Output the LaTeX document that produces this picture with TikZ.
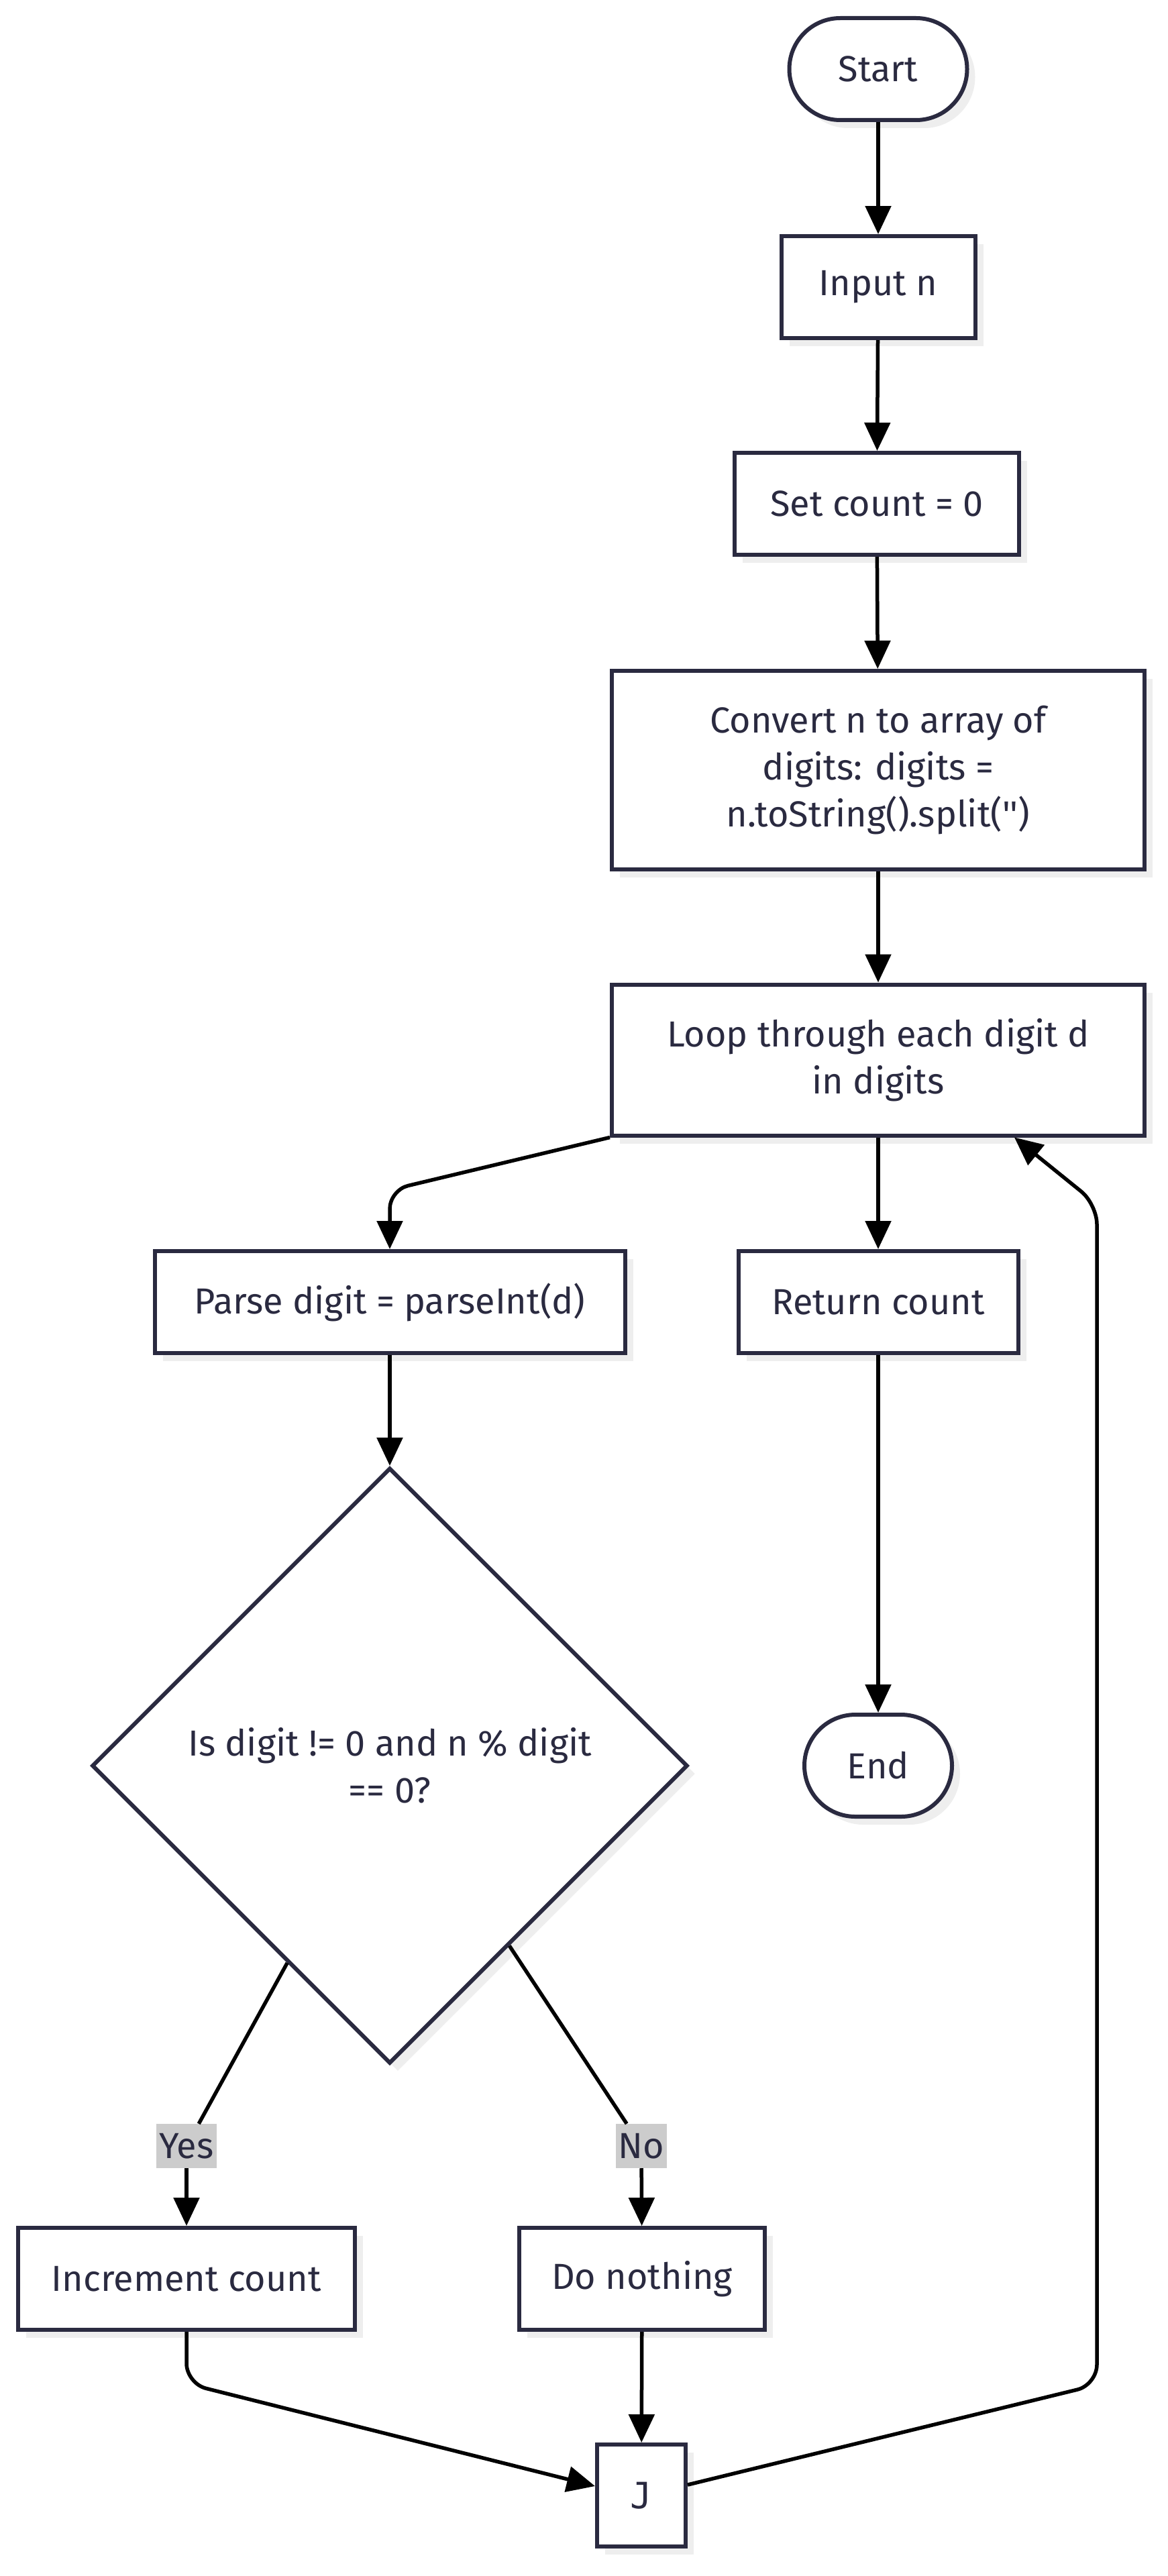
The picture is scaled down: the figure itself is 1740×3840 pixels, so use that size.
\documentclass[tikz,border=0pt]{standalone}
\usepackage{fontspec}
\setmainfont{Fira Sans}[Ligatures=TeXOff]
\newfontfamily\monof{DejaVu Sans Mono}
\usetikzlibrary{shapes.geometric,shadows,arrows.meta,calc}
\definecolor{ink}{RGB}{42,42,64}
\definecolor{shd}{RGB}{238,238,238}
\definecolor{lbl}{RGB}{204,204,204}
\newcommand\diagfont{\fontsize{54}{70}\selectfont}
\begin{document}
\begin{tikzpicture}[x=1pt,y=-1pt,
  box/.style={draw=ink, line width=6pt, fill=white, text=ink, minimum height=152pt,
    inner sep=0pt, font=\diagfont, align=center,
    drop shadow={shadow xshift=12pt, shadow yshift=-12pt, fill=shd, opacity=1}},
  term/.style={box, rounded corners=76pt},
  dia/.style={box, diamond, aspect=1, minimum width=888pt, minimum height=888pt},
  lab/.style={fill=lbl, text=ink, font=\diagfont, inner xsep=4pt, inner ysep=0pt, minimum height=66pt},
  conn/.style={draw=black, line width=5.5pt},
  edge/.style={conn, -{Triangle[length=42pt,width=38pt]}}]
\useasboundingbox (0,0) rectangle (1740,3840);

\node[term, minimum width=265pt] (start) at (1309,103) {Start};
\node[box, minimum width=289pt] (input) at (1309,428) {Input n};
\node[box, minimum width=424pt] (setc) at (1307,751) {Set count = 0};
\node[box, minimum width=794pt, minimum height=296pt] (conv) at (1309,1148)
  {Convert n to array of\\digits: digits =\\n.toString().split('')};
\node[box, minimum width=794pt, minimum height=225pt] (loop) at (1309,1580)
  {Loop through each digit d\\in digits};
\node[box, minimum width=701pt] (parse) at (581,1941) {Parse digit = parseInt(d)};
\node[box, minimum width=417pt] (ret) at (1309,1941) {Return count};
\node[term, minimum width=220pt] (endn) at (1309,2632) {End};
\node[dia] (dec) at (581,2632) {Is digit != 0 and n \% digit\\== 0?};
\node[box, minimum width=502pt] (inc) at (278,3397) {Increment count};
\node[box, minimum width=366pt] (noth) at (957,3397) {Do nothing};
\node[box, minimum width=132pt, font=\monof\diagfont] (J) at (956,3720) {J};

\node[lab] (yes) at (278,3199) {Yes};
\node[lab] (no) at (956,3199) {No};

\coordinate (dy) at ($(dec.west)!0.658!(dec.south)$);
\coordinate (dn) at ($(dec.east)!0.601!(dec.south)$);

\draw[edge] (start) -- (input);
\draw[edge] (input) -- (setc);
\draw[edge] (setc) -- (conv);
\draw[edge] (conv) -- (loop);
\draw[edge, rounded corners=28pt] (loop.south west) -- (581,1774) -- (parse.north);
\draw[edge] (loop) -- (ret);
\draw[edge] (ret) -- (endn);
\draw[edge] (parse) -- (dec);
\draw[conn] (dy) -- (yes);
\draw[edge] (yes) -- (inc);
\draw[conn] (dn) -- (no);
\draw[edge] (no) -- (noth);
\draw[edge, rounded corners=30pt] (inc.south) -- (278,3553) -- ([yshift=14pt]J.west);
\draw[edge] (noth) -- (J);
\draw[edge, rounded corners=30pt] ([yshift=16pt]J.east) -- (1635,3555) -- (1635,1795) -- ([xshift=203pt]loop.south);
\end{tikzpicture}
\end{document}
